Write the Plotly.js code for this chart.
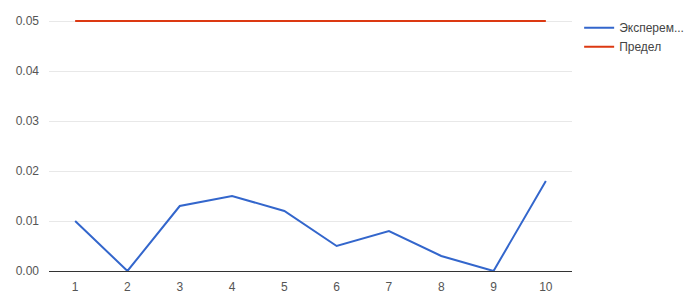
<!DOCTYPE html>
<html><head><meta charset="utf-8">
<script src="https://cdn.plot.ly/plotly-3.0.1.min.js"></script>
<style>html,body{margin:0;padding:0;background:#fff;}#chart{width:687px;height:295px;}</style>
</head><body><div id="chart"></div>
<script>
const categories = ['1','2','3','4','5','6','7','8','9','10'];
const experiment = [0.010, 0.000, 0.013, 0.015, 0.012, 0.005, 0.008, 0.003, 0.000, 0.018];
const limit = [0.05, 0.05, 0.05, 0.05, 0.05, 0.05, 0.05, 0.05, 0.05, 0.05];
const seriesNames = ['Эксперем...', 'Предел'];
const yTicks = [0, 0.01, 0.02, 0.03, 0.04, 0.05];
const yTickLabels = ['0.00', '0.01', '0.02', '0.03', '0.04', '0.05'];

const traces = [
  {x: categories, y: experiment, name: seriesNames[0], type: 'scatter', mode: 'lines',
   line: {color: '#3366cc', width: 2}},
  {x: categories, y: limit, name: seriesNames[1], type: 'scatter', mode: 'lines',
   line: {color: '#dc3912', width: 2}}
];
const layout = {
  width: 687, height: 295,
  margin: {l: 49, r: 115, t: 19, b: 24, autoexpand: false},
  paper_bgcolor: '#fff', plot_bgcolor: '#fff',
  font: {family: 'Arial, Liberation Sans, sans-serif', size: 12, color: '#555'},
  showlegend: true,
  legend: {xref: 'container', yref: 'container', x: 0.843, y: 0.955, xanchor: 'left', yanchor: 'top',
           font: {size: 12, color: '#444'},
           itemwidth: 30, tracegroupgap: 0, bgcolor: 'rgba(0,0,0,0)'},
  xaxis: {type: 'category', range: [-0.5, 9.5], showgrid: false, zeroline: false, showline: false,
          ticks: '', ticklabelstandoff: 7, tickfont: {size: 12, color: '#555'}, fixedrange: true},
  yaxis: {range: [0, 0.0504], tickvals: yTicks, ticktext: yTickLabels, showgrid: true,
          gridcolor: '#e8e8e8', gridwidth: 1, zeroline: true, zerolinecolor: '#333', zerolinewidth: 1,
          showline: false, ticks: '', ticklabelstandoff: 9, tickfont: {size: 12, color: '#555'}, fixedrange: true}
};
Plotly.newPlot('chart', traces, layout, {displayModeBar: false, staticPlot: true});
</script></body></html>
